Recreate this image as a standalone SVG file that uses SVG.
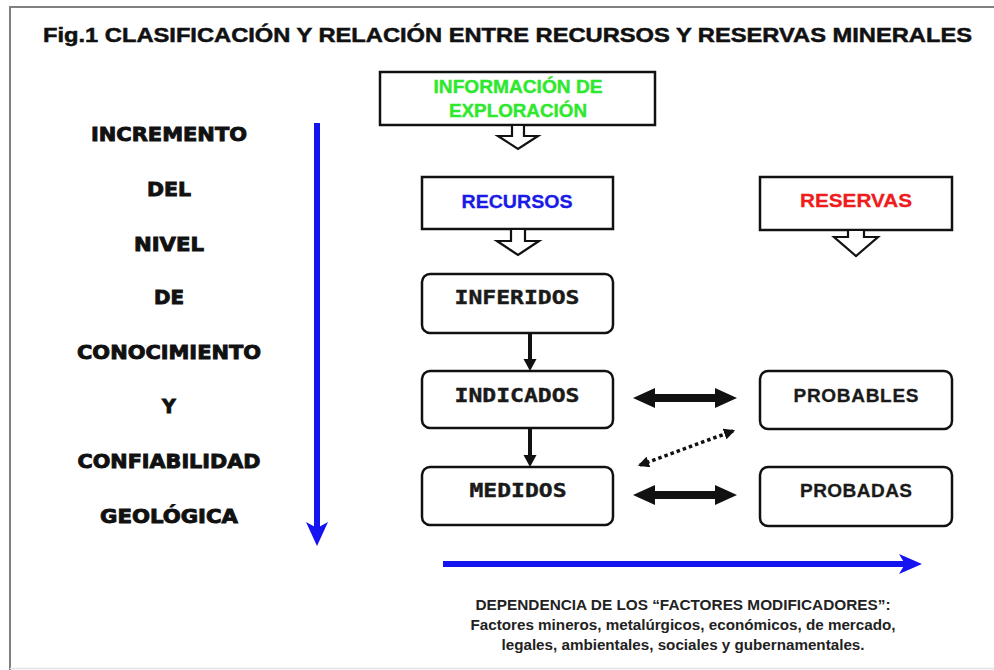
<svg xmlns="http://www.w3.org/2000/svg" width="994" height="670" viewBox="0 0 994 670">
<style>
.frame{stroke:#808080;stroke-width:2;fill:none}
.box{fill:#fff;stroke:#111;stroke-width:2.5}
.hollow{fill:#fff;stroke:#111;stroke-width:2.2;stroke-linejoin:miter}
.title{font-family:"Liberation Sans",Arial,sans-serif;font-weight:bold;font-size:20px;fill:#111;stroke:#111;stroke-width:0.5}
.head{font-family:"Liberation Sans",Arial,sans-serif;font-weight:bold;font-size:19px;text-anchor:middle}
.left{font-family:"DejaVu Sans","Liberation Sans",sans-serif;font-weight:bold;font-size:19px;text-anchor:middle;fill:#111;stroke:#111;stroke-width:0.9}
.mono{font-family:"DejaVu Sans Mono","Liberation Mono",monospace;font-weight:bold;font-size:19px;text-anchor:middle;fill:#1a1a1a;stroke:#1a1a1a;stroke-width:0.4}
.sans{font-family:"Liberation Sans",Arial,sans-serif;font-weight:bold;font-size:19px;text-anchor:middle;fill:#1a1a1a;stroke:#1a1a1a;stroke-width:0.3}
.foot{font-family:"Liberation Sans",Arial,sans-serif;font-weight:bold;font-size:14px;text-anchor:middle;fill:#222}
.blue{stroke:#1414f0;stroke-width:6;fill:none}
.bluehead{fill:#1414f0}
.blk{fill:#111}
</style>
<defs>
<marker id="dot-end" viewBox="0 0 10 10" refX="8" refY="5" markerWidth="3.2" markerHeight="3.2" orient="auto-start-reverse">
<path d="M0,0 L10,5 L0,10 Z" fill="#111"/>
</marker>
</defs>
<rect x="0" y="0" width="994" height="670" fill="#fff"/>
<line class="frame" x1="9" y1="7" x2="994" y2="7"/>
<line class="frame" x1="10" y1="7" x2="10" y2="670"/>
<line x1="10" y1="668.5" x2="994" y2="668.5" stroke="#e4e4e4" stroke-width="1.5"/>

<text class="title" x="43" y="42" textLength="929" lengthAdjust="spacingAndGlyphs">Fig.1 CLASIFICACIÓN Y RELACIÓN ENTRE RECURSOS Y RESERVAS MINERALES</text>

<g id="left-label">
<text class="left" x="169" y="141" textLength="156" lengthAdjust="spacingAndGlyphs">INCREMENTO</text>
<text class="left" x="169" y="196" textLength="44" lengthAdjust="spacingAndGlyphs">DEL</text>
<text class="left" x="169" y="251" textLength="70" lengthAdjust="spacingAndGlyphs">NIVEL</text>
<text class="left" x="169" y="304" textLength="30" lengthAdjust="spacingAndGlyphs">DE</text>
<text class="left" x="169" y="359" textLength="184" lengthAdjust="spacingAndGlyphs">CONOCIMIENTO</text>
<text class="left" x="169" y="413">Y</text>
<text class="left" x="169" y="468" textLength="183" lengthAdjust="spacingAndGlyphs">CONFIABILIDAD</text>
<text class="left" x="169" y="523" textLength="138" lengthAdjust="spacingAndGlyphs">GEOLÓGICA</text>
</g>

<g id="info">
<rect class="box" x="380" y="72" width="275" height="53"/>
<text class="head" x="518" y="93" fill="#2ee82e" stroke="#2ee82e" stroke-width="0.4" textLength="169" lengthAdjust="spacingAndGlyphs" font-size="22">INFORMACIÓN DE</text>
<text class="head" x="518" y="117" fill="#2ee82e" stroke="#2ee82e" stroke-width="0.4" textLength="138" lengthAdjust="spacingAndGlyphs" font-size="22">EXPLORACIÓN</text>
</g>

<g id="recursos">
<rect class="box" x="422" y="177" width="191" height="52"/>
<text class="head" x="517" y="208" fill="#1a1ae6" stroke="#1a1ae6" stroke-width="0.3" textLength="111" lengthAdjust="spacingAndGlyphs">RECURSOS</text>
</g>

<g id="reservas">
<rect class="box" x="760" y="177" width="192" height="53"/>
<text class="head" x="856" y="207" fill="#ee1c1c" stroke="#ee1c1c" stroke-width="0.3" textLength="112" lengthAdjust="spacingAndGlyphs">RESERVAS</text>
</g>

<g id="inferidos">
<rect class="box" x="422" y="274" width="191" height="59" rx="8"/>
<text class="mono" x="517" y="304" textLength="125" lengthAdjust="spacingAndGlyphs">INFERIDOS</text>
</g>
<g id="indicados">
<rect class="box" x="422" y="371" width="191" height="57" rx="8"/>
<text class="mono" x="517" y="402" textLength="125" lengthAdjust="spacingAndGlyphs">INDICADOS</text>
</g>
<g id="medidos">
<rect class="box" x="422" y="467" width="191" height="58" rx="8"/>
<text class="mono" x="518" y="497" textLength="97" lengthAdjust="spacingAndGlyphs">MEDIDOS</text>
</g>
<g id="probables">
<rect class="box" x="760" y="371" width="192" height="58" rx="8"/>
<text class="sans" x="856" y="402" textLength="125" lengthAdjust="spacing">PROBABLES</text>
</g>
<g id="probadas">
<rect class="box" x="760" y="467" width="192" height="59" rx="8"/>
<text class="sans" x="856" y="497" textLength="112" lengthAdjust="spacing">PROBADAS</text>
</g>

<g id="connectors">
<polygon class="hollow" points="512,125 512,136 498,136 518,149 538,136 524,136 524,125"/>
<polygon class="hollow" points="511,229 511,241 497,241 518,255 539,241 525,241 525,229"/>
<polygon class="hollow" points="848,230 848,237 834,237 856,256 878,237 864,237 864,230"/>

<line x1="530" y1="333" x2="530" y2="361" stroke="#111" stroke-width="4"/>
<polygon class="blk" points="523.5,359 536.5,359 530,371"/>
<line x1="530" y1="428" x2="530" y2="457" stroke="#111" stroke-width="4"/>
<polygon class="blk" points="523.5,455 536.5,455 530,467"/>

<polygon class="blk" points="633,398 655,388 655,394 715,394 715,388 737,398 715,408 715,402 655,402 655,408"/>
<polygon class="blk" points="633,495 655,485 655,491 715,491 715,485 737,495 715,505 715,499 655,499 655,505"/>

<line x1="640" y1="465" x2="733" y2="431" stroke="#111" stroke-width="3.5" stroke-dasharray="3.5 3" marker-start="url(#dot-end)" marker-end="url(#dot-end)"/>

<line class="blue" x1="317" y1="123" x2="317" y2="530"/>
<polygon class="bluehead" points="306,522 317,528 328,522 317,546"/>
<line class="blue" x1="443" y1="564" x2="908" y2="564"/>
<polygon class="bluehead" points="899,554 922,564 899,574 905,564"/>
</g>

<g id="footnote">
<text class="foot" x="683" y="610" textLength="415" lengthAdjust="spacingAndGlyphs">DEPENDENCIA DE LOS “FACTORES MODIFICADORES”:</text>
<text class="foot" x="683" y="630" textLength="425" lengthAdjust="spacingAndGlyphs">Factores mineros, metalúrgicos, económicos, de mercado,</text>
<text class="foot" x="683" y="650" textLength="363" lengthAdjust="spacingAndGlyphs">legales, ambientales, sociales y gubernamentales.</text>
</g>
</svg>
